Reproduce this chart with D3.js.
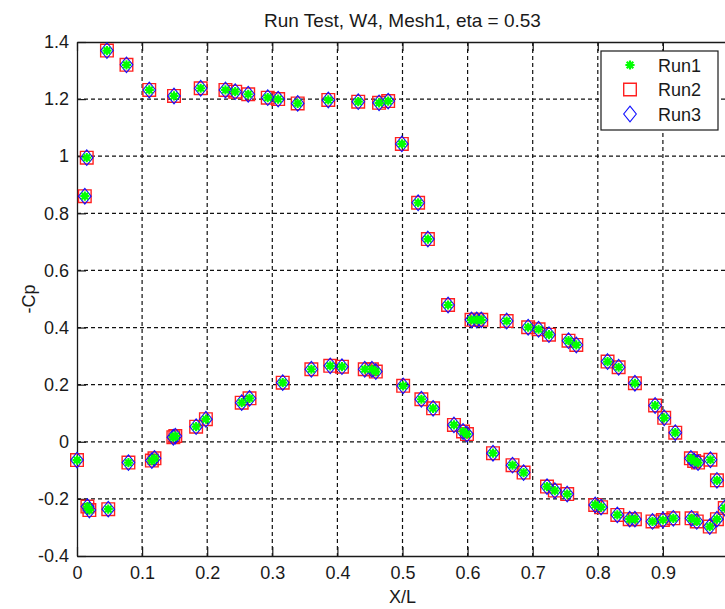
<!doctype html>
<html>
<head>
<meta charset="utf-8">
<title>Run Test, W4, Mesh1</title>
<style type="text/css">
body { margin: 0; background: #fff; }
svg { display: block; }
text { font-family: "Liberation Sans", Arial, sans-serif; fill: #1a1a1a; }
</style>
<script src="https://cdnjs.cloudflare.com/ajax/libs/d3/7.8.5/d3.min.js"></script>
</head>
<body>
<script type="text/javascript">
var width = 725, height = 609;

// X/L stations, upper branch then lower branch
var xl = [0.012, 0.015, 0.046, 0.076, 0.111, 0.149, 0.190, 0.228, 0.243, 0.263,
	0.293, 0.309, 0.339, 0.386, 0.432, 0.464, 0.478, 0.499, 0.524, 0.539,
	0.570, 0.606, 0.614, 0.621, 0.660, 0.693, 0.709, 0.725, 0.755, 0.767,
	0.815, 0.832, 0.857, 0.888, 0.902, 0.919, 0.943, 0.948, 0.954, 0.973, 0.983,
	0.000, 0.016, 0.019, 0.048, 0.079, 0.115, 0.119, 0.148, 0.151, 0.183,
	0.198, 0.253, 0.265, 0.316, 0.360, 0.389, 0.407, 0.442, 0.453, 0.459,
	0.501, 0.529, 0.547, 0.579, 0.593, 0.599, 0.639, 0.669, 0.686, 0.722,
	0.734, 0.753, 0.796, 0.805, 0.830, 0.849, 0.857, 0.884, 0.900, 0.916,
	0.944, 0.952, 0.972, 0.983, 0.995];

// -Cp for the three runs (they sit on top of each other at this scale)
var run1 = [0.860, 0.995, 1.370, 1.320, 1.232, 1.211, 1.238, 1.232, 1.226, 1.217,
	1.205, 1.200, 1.185, 1.197, 1.191, 1.187, 1.193, 1.043, 0.837, 0.710,
	0.479, 0.427, 0.427, 0.427, 0.423, 0.401, 0.394, 0.375, 0.354, 0.339,
	0.281, 0.261, 0.205, 0.127, 0.084, 0.032, -0.058, -0.067, -0.073, -0.063, -0.135,
	-0.064, -0.227, -0.239, -0.236, -0.073, -0.066, -0.058, 0.016, 0.020, 0.053,
	0.079, 0.137, 0.152, 0.207, 0.254, 0.266, 0.263, 0.254, 0.254, 0.246,
	0.196, 0.149, 0.117, 0.059, 0.036, 0.027, -0.040, -0.082, -0.108, -0.157,
	-0.171, -0.183, -0.221, -0.229, -0.256, -0.271, -0.271, -0.279, -0.274, -0.268,
	-0.268, -0.279, -0.297, -0.271, -0.232];
var run2 = [0.860, 0.995, 1.370, 1.320, 1.232, 1.211, 1.238, 1.232, 1.226, 1.217,
	1.205, 1.200, 1.185, 1.197, 1.191, 1.187, 1.193, 1.043, 0.837, 0.710,
	0.479, 0.427, 0.427, 0.427, 0.423, 0.401, 0.394, 0.375, 0.354, 0.339,
	0.281, 0.261, 0.205, 0.127, 0.084, 0.032, -0.058, -0.067, -0.073, -0.063, -0.135,
	-0.064, -0.227, -0.239, -0.236, -0.073, -0.066, -0.058, 0.016, 0.020, 0.053,
	0.079, 0.137, 0.152, 0.207, 0.254, 0.266, 0.263, 0.254, 0.254, 0.246,
	0.196, 0.149, 0.117, 0.059, 0.036, 0.027, -0.040, -0.082, -0.108, -0.157,
	-0.171, -0.183, -0.221, -0.229, -0.256, -0.271, -0.271, -0.279, -0.274, -0.268,
	-0.268, -0.279, -0.297, -0.271, -0.232];
var run3 = [0.860, 0.995, 1.370, 1.320, 1.232, 1.211, 1.238, 1.232, 1.226, 1.217,
	1.205, 1.200, 1.185, 1.197, 1.191, 1.187, 1.193, 1.043, 0.837, 0.710,
	0.479, 0.427, 0.427, 0.427, 0.423, 0.401, 0.394, 0.375, 0.354, 0.339,
	0.281, 0.261, 0.205, 0.127, 0.084, 0.032, -0.058, -0.067, -0.073, -0.063, -0.135,
	-0.064, -0.227, -0.239, -0.236, -0.073, -0.066, -0.058, 0.016, 0.020, 0.053,
	0.079, 0.137, 0.152, 0.207, 0.254, 0.266, 0.263, 0.254, 0.254, 0.246,
	0.196, 0.149, 0.117, 0.059, 0.036, 0.027, -0.040, -0.082, -0.108, -0.157,
	-0.171, -0.183, -0.221, -0.229, -0.256, -0.271, -0.271, -0.279, -0.274, -0.268,
	-0.268, -0.279, -0.297, -0.271, -0.232];

var xTicks = [0, 0.1, 0.2, 0.3, 0.4, 0.5, 0.6, 0.7, 0.8, 0.9];
var yTicks = [-0.4, -0.2, 0, 0.2, 0.4, 0.6, 0.8, 1, 1.2, 1.4];
var seriesNames = ["Run1", "Run2", "Run3"];

// careful: "top" is a window global, so prefix the plot box names
var pLeft = 77, pRight = 728, pTop = 42, pBottom = 556;

var x = d3.scaleLinear().domain([0, 1]).range([pLeft, pRight]);
var y = d3.scaleLinear().domain([-0.4, 1.4]).range([pBottom, pTop]);

var svg = d3.select("body").append("svg")
	.attr("width", width)
	.attr("height", height);

// grid, dashed black like the old matlab figures
var grid = svg.append("g").attr("stroke", "#111").attr("stroke-width", 1.2)
	.attr("stroke-dasharray", "4,3");
grid.selectAll(".vg").data(xTicks.slice(1).concat([1])).enter().append("line")
	.attr("x1", d => x(d)).attr("x2", d => x(d))
	.attr("y1", pTop).attr("y2", pBottom);
grid.selectAll(".hg").data(yTicks.slice(1, -1)).enter().append("line")
	.attr("x1", pLeft).attr("x2", pRight)
	.attr("y1", d => y(d)).attr("y2", d => y(d));

// axes: ticks point inward, box on top and bottom
var tickLen = 9;
// plain hyphen for negatives, like matlab does
var fmt = d => String(+d.toFixed(1));
var axB = svg.append("g").attr("transform", "translate(0," + pBottom + ")")
	.call(d3.axisBottom(x).tickValues(xTicks).tickSizeInner(-tickLen).tickSizeOuter(0).tickFormat(fmt));
var axT = svg.append("g").attr("transform", "translate(0," + pTop + ")")
	.call(d3.axisTop(x).tickValues(xTicks).tickSizeInner(-tickLen).tickSizeOuter(0).tickFormat(""));
var axL = svg.append("g").attr("transform", "translate(" + pLeft + ",0)")
	.call(d3.axisLeft(y).tickValues(yTicks).tickSizeInner(-tickLen).tickSizeOuter(0).tickPadding(8)
		.tickFormat(fmt));
[axB, axT, axL].forEach(function(a) {
	a.select(".domain").attr("stroke", "#1a1a1a").attr("stroke-width", 1.3);
	a.selectAll(".tick line").attr("stroke", "#1a1a1a").attr("stroke-width", 1.2);
	a.selectAll("text").attr("font-size", 18).attr("fill", "#1a1a1a")
		.attr("font-family", "'Liberation Sans', Arial, sans-serif");
});
axB.selectAll("text").attr("dy", "0.71em").attr("y", 10);

// marker shapes
function starPath(r) {
	var d = r * 0.72;
	return "M" + (-r) + ",0H" + r + "M0," + (-r) + "V" + r +
		"M" + (-d) + "," + (-d) + "L" + d + "," + d +
		"M" + (-d) + "," + d + "L" + d + "," + (-d);
}
function squarePath(h) {
	return "M" + (-h) + "," + (-h) + "H" + h + "V" + h + "H" + (-h) + "Z";
}
function diamondPath(w, h) {
	return "M0," + (-h) + "L" + w + ",0L0," + h + "L" + (-w) + ",0Z";
}

var styles = {
	Run1: { path: starPath(4.6), stroke: "#00ff00", width: 2.2 },
	Run2: { path: squarePath(6.3), stroke: "#ff2020", width: 1.4 },
	Run3: { path: diamondPath(6.3, 7.8), stroke: "#1010ff", width: 1.1 }
};

var runs = { Run1: run1, Run2: run2, Run3: run3 };
var drawOrder = ["Run2", "Run3", "Run1"];

var pts = svg.append("g");
drawOrder.forEach(function(name) {
	var s = styles[name];
	pts.append("g").selectAll("path")
		.data(runs[name])
		.enter().append("path")
		.attr("d", s.path)
		.attr("transform", function(d, i) { return "translate(" + x(xl[i]) + "," + y(d) + ")"; })
		.attr("fill", "none")
		.attr("stroke", s.stroke)
		.attr("stroke-width", s.width);
});

// title and labels
svg.append("text").attr("x", (pLeft + pRight) / 2).attr("y", 27)
	.attr("text-anchor", "middle").attr("font-size", 19)
	.text("Run Test, W4, Mesh1, eta = 0.53");
svg.append("text").attr("x", (pLeft + pRight) / 2).attr("y", 603)
	.attr("text-anchor", "middle").attr("font-size", 18)
	.text("X/L");
svg.append("text").attr("transform", "translate(35," + ((pTop + pBottom) / 2) + ") rotate(-90)")
	.attr("text-anchor", "middle").attr("font-size", 18)
	.text("-Cp");

// legend
var lg = svg.append("g").attr("transform", "translate(601,51)");
lg.append("rect").attr("width", 117).attr("height", 79)
	.attr("fill", "#fff").attr("stroke", "#1a1a1a").attr("stroke-width", 1.2);
var rows = lg.selectAll(".row").data(seriesNames).enter().append("g")
	.attr("transform", (d, i) => "translate(0," + (14 + i * 24.5) + ")");
rows.append("path")
	.attr("d", d => styles[d].path)
	.attr("transform", "translate(29,0)")
	.attr("fill", "none")
	.attr("stroke", d => styles[d].stroke)
	.attr("stroke-width", d => styles[d].width);
rows.append("text").attr("x", 57).attr("y", 6.5).attr("font-size", 18).text(d => d);
</script>
</body>
</html>
